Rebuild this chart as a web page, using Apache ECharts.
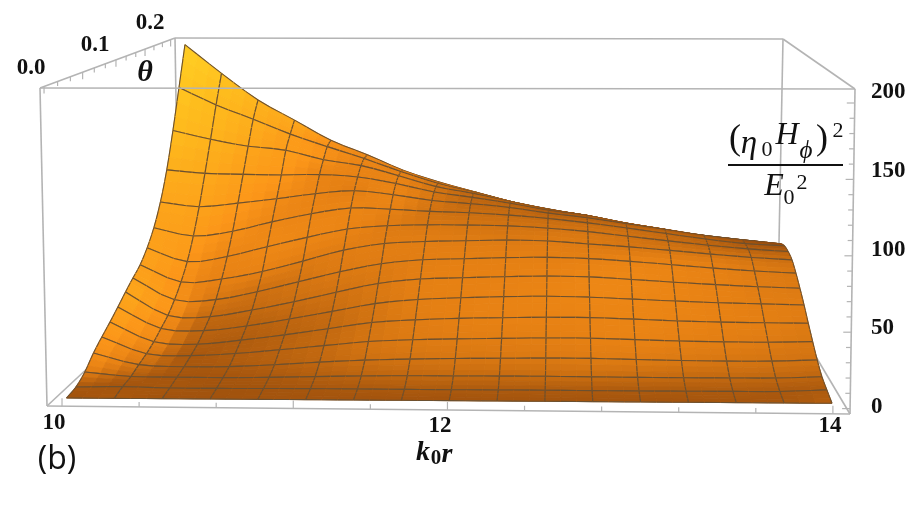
<!DOCTYPE html>
<html><head><meta charset="utf-8">
<style>html,body{margin:0;padding:0;background:#fff}#c{width:922px;height:506px}</style>
<script src="https://cdn.jsdelivr.net/npm/echarts@6/dist/echarts.min.js"></script>
</head><body><div id="c"></div>
<script>
// ---- values: field height at each mesh node, one list per theta mesh line ----
const heightTheta00=[0,0,0,0,0,0,0,0,0,0,0,0,0,0,0,0,0];
const heightTheta01=[1.4,1.9,1.2,1.2,1.4,1.5,1.5,1.5,1.5,1.6,1.6,1.6,1.6,1.7,1.8,2,3.3];
const heightTheta02=[5.9,3.0,2.8,2.8,3.2,4.0,4.7,5.1,5.2,5.4,5.5,5.4,5.3,5.3,5.4,5.6,6.8];
const heightTheta03=[13.5,5.6,4.4,4.8,6.4,8.5,10.2,11.2,11.9,12.3,12.7,12.8,12.3,11.9,11.7,12,13.1];
const heightTheta04=[19.5,7.8,6.7,8.5,11.5,14.8,18,19.6,20.5,21.2,21.8,21.9,21.2,20.5,20.2,20.2,21];
const heightTheta05=[25,11,9.5,12.8,17,21.8,26.6,28.9,30.3,31.1,31.7,31.8,31,30,29.5,29.3,29.3];
const heightTheta06=[31,15.5,14.2,18,23.5,29.5,35.6,39,40.6,41.8,42.4,42.1,41,39.9,39,38.5,38];
const heightTheta07=[37.4,20,19.5,24.9,31.5,39,46,49.7,51,52.2,53,52.8,51.2,49.5,48,46.8,46];
const heightTheta08=[43.4,27,27.5,34,42,50,56.6,60,61.2,62.4,63,62.4,60.7,58.5,56.3,54.4,53.2];
const heightTheta09=[49,36,38.7,45,53.5,62.5,68,70,71,71.9,71.6,69.7,67.8,65.5,63,60.8,59.3];
const heightTheta10=[58,47.5,52,60.2,68,75,78,79.2,79.4,79.2,77.8,75.5,72.2,69,66,63.5,61.8];
const heightTheta11=[70,63.7,68,76,83,88,87.5,86.2,85.5,84.1,81.8,78.7,75,71,67,63.8,62.5];
const heightTheta12=[87,83.6,87,91,95.6,98.5,95.7,91.5,89.3,86.7,82.5,79.2,74.8,70.5,66.2,63,60.2];
const heightTheta13=[110,107.6,107.2,107.2,108,106.5,101.5,95,91,86.5,81,77.4,71.8,67.1,62.1,58.9,56];
const heightTheta14=[140,133,127.7,124.7,117.3,112.8,104.8,96.1,90.7,84.1,78,74,67.9,63.3,58.1,54.6,52];
const heightTheta15=[174,159.6,147.8,135.6,125.4,115.7,105,95.4,88.2,80.8,75,70,63.8,59.1,53.8,50.3,48];
const heightTheta16=[209,184.6,162,145,128,116,102.9,93.1,85,77.1,70.7,66,59.2,54.4,49.3,45.9,44];
const rTicks=[10,10.4,10.8,11.2,11.6,12,12.4,12.8,13.2,13.6,14];
const rTickLabels=['10','12','14'];
const thetaTicks=[0,0.0167,0.0333,0.05,0.0667,0.0833,0.1,0.1167,0.1333,0.15,0.1667,0.1833,0.2];
const thetaTickLabels=['0.0','0.1','0.2'];
const zTicks=[0,10,20,30,40,50,60,70,80,90,100,110,120,130,140,150,160,170,180,190,200];
const zTickLabels=['0','50','100','150','200'];

// ---- camera and layout ----
const rows=[heightTheta00,heightTheta01,heightTheta02,heightTheta03,heightTheta04,heightTheta05,heightTheta06,heightTheta07,heightTheta08,heightTheta09,heightTheta10,heightTheta11,heightTheta12,heightTheta13,heightTheta14,heightTheta15,heightTheta16];
const N=16, SUB=3, DEPTH=0.78;
const lerp=(a,b,t)=>a+(b-a)*t;
const floorC={fl:[66.5,398],fr:[832,403.3],bl:[186,285],br:[766,295]};
const roofC ={fl:[60,98],fr:[836.6,103.3],bl:[185,55],br:[769,65]};
function corner(c,a,t){
  const f=[lerp(c.fl[0],c.fr[0],a),lerp(c.fl[1],c.fr[1],a)];
  const b=[lerp(c.bl[0],c.br[0],a),lerp(c.bl[1],c.br[1],a)];
  return [lerp(f[0],b[0],t),lerp(f[1],b[1],t)];
}
function project(a,q,z){
  const t=q/(q+(1-q)*DEPTH);
  const p0=corner(floorC,a,t),p1=corner(roofC,a,t),w=z/200;
  return [lerp(p0[0],p1[0],w),lerp(p0[1],p1[1],w)];
}
function cr(p0,p1,p2,p3,t){return 0.5*(2*p1+(p2-p0)*t+(2*p0-5*p1+4*p2-p3)*t*t+(3*p1-p0-3*p2+p3)*t*t*t);}
function at(r,i){ // a mesh value, continued straight past the edge of the mesh
  if(i<0) return 2*r[0]-r[1];
  if(i>N) return 2*r[N]-r[N-1];
  return r[i];
}
function h(ii,jj){ // smooth reading between mesh nodes, for drawing curved mesh lines
  ii=Math.max(0,Math.min(N,ii));jj=Math.max(0,Math.min(N,jj));
  const i=Math.min(Math.floor(ii),N-1),j=Math.min(Math.floor(jj),N-1),u=ii-i,v=jj-j;
  const line=k=>{
    const f=m=>cr(at(rows[m],i-1),at(rows[m],i),at(rows[m],i+1),at(rows[m],i+2),u);
    if(k<0) return 2*f(0)-f(1);
    if(k>N) return 2*f(N)-f(N-1);
    return f(k);
  };
  return Math.max(0,cr(line(j-1),line(j),line(j+1),line(j+2),v));
}
const node=(si,sj)=>{const ii=si/SUB,jj=sj/SUB;return project(ii/N,jj/N,h(ii,jj));};
const ramp=[[0,[150,75,12]],[0.34,[232,130,20]],[0.5,[252,150,25]],[0.83,[255,190,30]],[1,[255,222,40]]];
function shade(si,sj){
  const ci=(si+0.5)/SUB,cj=(sj+0.5)/SUB,w=0.8;
  const g=(h(ci,cj+w)-h(ci,cj-w))/(Math.min(N,cj+w)-Math.max(0,cj-w));
  const d=-(h(ci+w,cj)-h(ci-w,cj))/(Math.min(N,ci+w)-Math.max(0,ci-w));
  const x=Math.max(0,0.042*g+(d>0?0.04:0.02)*d),L=1-Math.exp(-x);
  for(let k=1;k<ramp.length;k++) if(L<=ramp[k][0]){
    const t=(L-ramp[k-1][0])/(ramp[k][0]-ramp[k-1][0]),a=ramp[k-1][1],b=ramp[k][1];
    return `rgb(${lerp(a[0],b[0],t)|0},${lerp(a[1],b[1],t)|0},${lerp(a[2],b[2],t)|0})`;
  }
  return 'rgb(255,222,40)';
}
const cells=[];
for(let sj=N*SUB-1;sj>=0;sj--)for(let si=0;si<N*SUB;si++)cells.push([si,sj]);

const MESH='#6b5030',BOX='#b4b4b4';
const box={ftl:[40,88],ftr:[855,89],fbl:[47,406],fbr:[850,414],btl:[175,38],btr:[783,39],bbl:[179,283],bbr:[778,293]};
const backEdges=[['btl','btr'],['ftl','btl'],['ftr','btr'],['btl','bbl'],['btr','bbr'],['fbl','bbl'],['fbr','bbr'],['ftl','fbl'],['ftr','fbr'],['fbl','fbr']];
const NUM='bold 23px "Liberation Serif"';
const labelSpots={r:[[54,423],[440,426],[830,426]],theta:[[31,68.5],[95,45.5],[150,23.5]],z:[[871,407],[871,328],[871,250],[871,171],[871,92]]};
const formula=[
 ['(',735,140,'36px "Liberation Serif"'],['η',749,144,'italic 33px "Liberation Serif"'],['0',767,150,'22px "Liberation Serif"'],
 ['H',787,136,'italic 32px "Liberation Serif"'],['ϕ',806,151,'italic 25px "Liberation Serif"'],[')',822,140,'36px "Liberation Serif"'],['2',838,131,'22px "Liberation Serif"'],
 ['E',774,187,'italic 32px "Liberation Serif"'],['0',789,198,'22px "Liberation Serif"'],['2',802,183,'22px "Liberation Serif"'],
 ['θ',145,73,'italic bold 30px "Liberation Serif"'],
 ['k',423,453,'italic bold 28px "Liberation Serif"'],['0',436,459,'bold 21px "Liberation Serif"'],['r',447,455,'italic bold 28px "Liberation Serif"'],
 ['(b)',57,460,'32px "Open Sans"']
];
const seg=(api,a,b,color,w)=>{const p=api.coord(a),q=api.coord(b);
  return {type:'line',shape:{x1:p[0],y1:p[1],x2:q[0],y2:q[1]},style:{stroke:color,lineWidth:w,fill:null},silent:true};};
const txt=(api,s,p,font,align)=>{const c=api.coord(p);
  return {type:'text',x:c[0],y:c[1],style:{text:s,font:font,fill:'#111',textAlign:align||'center',textVerticalAlign:'middle'},silent:true};};

function renderBack(params,api){
  return {type:'group',children:backEdges.map(e=>seg(api,box[e[0]],box[e[1]],BOX,1.6))};
}
function renderCell(params,api){
  const si=api.value(0),sj=api.value(1);
  const a=node(si,sj),b=node(si+1,sj),c=node(si+1,sj+1),d=node(si,sj+1);
  const col=shade(si,sj),ch=[];
  ch.push({type:'polygon',shape:{points:[a,b,c,d].map(p=>api.coord(p))},style:{fill:col,stroke:col,lineWidth:0.9},silent:true});
  if((sj+1)%SUB===0) ch.push(seg(api,d,c,MESH,1.1));
  if(sj%SUB===0) ch.push(seg(api,a,b,MESH,1.1));
  if(si%SUB===0) ch.push(seg(api,a,d,MESH,1.1));
  if((si+1)%SUB===0) ch.push(seg(api,b,c,MESH,1.1));
  return {type:'group',children:ch};
}
function renderFront(params,api){
  const ch=[seg(api,box.ftl,box.ftr,BOX,1.6)];
  rTicks.forEach((r,k)=>{
    const a=0.0187+0.96*(r-10)/4,x=lerp(box.fbl[0],box.fbr[0],a),y=lerp(box.fbl[1],box.fbr[1],a);
    const len=(k%5===0||k===3)?8:5;
    ch.push(seg(api,[x,y],[x,y-len],BOX,1.2));
  });
  thetaTicks.forEach((th,k)=>{
    const q=0.0225+0.9345*th/0.2,t=q/(q+(1-q)*0.746),x=lerp(box.ftl[0],box.btl[0],t),y=lerp(box.ftl[1],box.btl[1],t);
    const len=(k%3===0)?7:4.5;
    ch.push(seg(api,[x,y],[x,y+len],BOX,1.2));
  });
  zTicks.forEach(zv=>{
    const y=408.6-zv*1.528,x=lerp(box.fbr[0],box.ftr[0],(414-y)/325);
    ch.push(seg(api,[x,y],[x-((zv%50===0)?8:5),y],BOX,1.2));
  });
  rTickLabels.forEach((s,k)=>ch.push(txt(api,s,labelSpots.r[k],NUM)));
  thetaTickLabels.forEach((s,k)=>ch.push(txt(api,s,labelSpots.theta[k],NUM)));
  zTickLabels.forEach((s,k)=>ch.push(txt(api,s,labelSpots.z[k],NUM,'left')));
  formula.forEach(f=>ch.push(txt(api,f[0],[f[1],f[2]],f[3])));
  ch.push(seg(api,[728,165],[843,165],'#111',1.8));
  return {type:'group',children:ch};
}
const chart=echarts.init(document.getElementById('c'),null,{renderer:'canvas'});
chart.setOption({
  animation:false,backgroundColor:'#fff',
  grid:{left:0,right:0,top:0,bottom:0},
  xAxis:{type:'value',min:0,max:922,show:false},
  yAxis:{type:'value',min:0,max:506,inverse:true,show:false},
  series:[
    {type:'custom',z:1,silent:true,data:[[0,0]],renderItem:renderBack,clip:false},
    {type:'custom',z:2,silent:true,data:cells,renderItem:renderCell,progressive:0,clip:false},
    {type:'custom',z:3,silent:true,data:[[0,0]],renderItem:renderFront,clip:false}
  ]
});
</script></body></html>
